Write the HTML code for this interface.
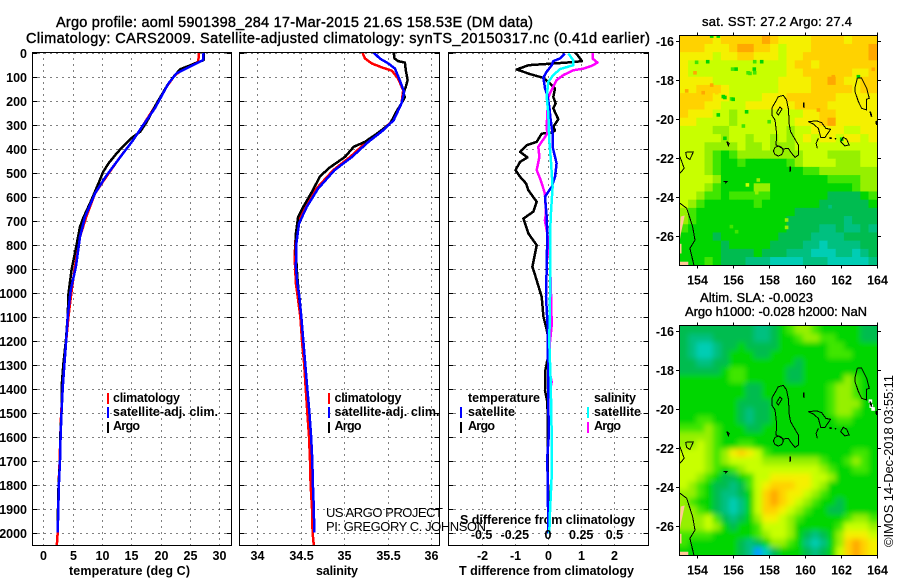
<!DOCTYPE html>
<html lang="en">
<head>
<meta charset="utf-8">
<title>Argo profile chart</title>
<style>
html,body{margin:0;padding:0;background:#fff;width:900px;height:580px;overflow:hidden}
svg{display:block}
text{font-family:"Liberation Sans",sans-serif;fill:#000}
.t{font-size:14.5px;stroke:#000;stroke-width:.4px}
.b{font-size:12.5px;font-weight:bold}
.l{font-size:12.5px;font-weight:bold}
.m{font-size:13px;stroke:#000;stroke-width:.35px}
.thin{font-size:13px}
</style>
</head>
<body>
<svg id="chart" xmlns="http://www.w3.org/2000/svg" width="900" height="580" viewBox="0 0 900 580">
  <defs>
    <clipPath id="clip-t"><rect x="33" y="53" width="198" height="492"/></clipPath>
    <clipPath id="clip-s"><rect x="240" y="53" width="199" height="492"/></clipPath>
    <clipPath id="clip-d"><rect x="449" y="53" width="199" height="492"/></clipPath>
    <clipPath id="clip-m1"><rect x="680" y="36" width="197" height="230"/></clipPath>
    <clipPath id="clip-m2"><rect x="680" y="326" width="197" height="230"/></clipPath>
    <filter id="soft" x="-10%" y="-10%" width="120%" height="120%"><feGaussianBlur stdDeviation="2.6"/></filter>
  </defs>
  <text class="t" x="56" y="27" textLength="477" lengthAdjust="spacing">Argo profile: aoml 5901398_284 17-Mar-2015 21.6S 158.53E (DM data)</text>
  <text class="t" x="26" y="43" textLength="624" lengthAdjust="spacing">Climatology: CARS2009. Satellite-adjusted climatology: synTS_20150317.nc (0.41d earlier)</text>
  <text class="l" x="69" y="575" textLength="121" lengthAdjust="spacing">temperature (deg C)</text>
  <text class="l" x="316" y="575" textLength="42" lengthAdjust="spacing">salinity</text>
  <text class="l" x="459" y="575" textLength="175" lengthAdjust="spacing">T difference from climatology</text>
  <text class="l" x="460" y="524" textLength="175" lengthAdjust="spacing">S difference from climatology</text>
  <text class="thin" x="326" y="517" textLength="117" lengthAdjust="spacing">US ARGO PROJECT</text>
  <text class="thin" x="326" y="531" textLength="160" lengthAdjust="spacing">PI: GREGORY C. JOHNSON</text>
  <text class="l" x="113" y="402" textLength="67" lengthAdjust="spacing">climatology</text>
  <text class="l" x="113" y="416" textLength="105" lengthAdjust="spacing">satellite-adj. clim.</text>
  <text class="l" x="113" y="430" textLength="27" lengthAdjust="spacing">Argo</text>
  <text class="l" x="334.5" y="402" textLength="67" lengthAdjust="spacing">climatology</text>
  <text class="l" x="334.5" y="416" textLength="105" lengthAdjust="spacing">satellite-adj. clim.</text>
  <text class="l" x="334.5" y="430" textLength="27" lengthAdjust="spacing">Argo</text>
  <text class="l" x="468" y="402" textLength="72" lengthAdjust="spacing">temperature</text>
  <text class="l" x="468" y="416" textLength="47" lengthAdjust="spacing">satellite</text>
  <text class="l" x="468" y="430" textLength="27" lengthAdjust="spacing">Argo</text>
  <text class="l" x="594" y="402" textLength="42" lengthAdjust="spacing">salinity</text>
  <text class="l" x="594" y="416" textLength="47" lengthAdjust="spacing">satellite</text>
  <text class="l" x="594" y="430" textLength="27" lengthAdjust="spacing">Argo</text>
  <text class="m" x="702" y="26" textLength="150" lengthAdjust="spacing">sat. SST: 27.2 Argo: 27.4</text>
  <text class="m" x="700" y="302" textLength="113" lengthAdjust="spacing">Altim. SLA: -0.0023</text>
  <text class="m" x="685" y="316" textLength="182" lengthAdjust="spacing">Argo h1000: -0.028 h2000: NaN</text>
  <text class="thin" transform="translate(893,547) rotate(-90)" textLength="172" lengthAdjust="spacing">©IMOS 14-Dec-2018 03:55:11</text>
</svg>
<script>
const depthTicks = [0,100,200,300,400,500,600,700,800,900,1000,1100,1200,1300,1400,1500,1600,1700,1800,1900,2000];
const tempTicks = [0,5,10,15,20,25,30];
const salTicks = [34,34.5,35,35.5,36];
const tDiffTicks = [-2,-1,0,1,2];
const sDiffTicks = [-0.5,-0.25,0,0.25,0.5];
const lonTicks = [154,156,158,160,162,164];
const latTicks = [-16,-18,-20,-22,-24,-26];

const tempClimDepths = [0,39,60,95,143,226,303,372,435,504,587,685,768,893,990,1100,1200,1300,1400,1500,1600,1700,1800,1900,2000,2054];
const tempClimValues = [26.5,26.4,24.4,22.4,21.0,19.0,17.0,15.1,13.1,11.1,8.8,7.3,6.25,5.4,4.83,4.3,3.9,3.55,3.3,3.05,2.9,2.8,2.6,2.55,2.45,2.3];
const tempArgoDepths = [0,32,48,70,95,130,212,290,330,355,397,420,462,497,545,615,690,726,796,907,1004,1100,1200,1300,1400,1500,1600,1700,1800,1900,2000];
const tempArgoValues = [27.3,27.3,25.6,23.3,22.4,21.3,19.3,17.6,16.5,15.1,13.35,12.5,11.1,10.2,9.4,8.2,6.8,6.25,5.7,4.8,4.3,4.15,3.85,3.4,3.1,3.1,2.9,2.85,2.6,2.5,2.45];
const tempSatDepths = [0,32,55,87,130,233,303,372,439,511,587,685,768,893,990,1100,1200,1300,1400,1500,1600,1700,1800,1900,2000];
const tempSatValues = [27.3,27.2,25.3,22.7,21.3,19,17,15.1,13,10.8,8.8,7.1,6.25,5.55,4.66,4.15,3.9,3.6,3.3,3.1,2.95,2.85,2.65,2.55,2.45];

const salClimDepths = [0,25,46,64,76,108,157,212,282,330,372,435,490,567,643,699,782,851,962,1018,1100,1200,1300,1400,1500,1600,1700,1800,1900,2000,2054];
const salClimValues = [35.21,35.24,35.32,35.45,35.55,35.62,35.68,35.66,35.57,35.41,35.26,35.07,34.875,34.68,34.55,34.47,34.44,34.43,34.445,34.465,34.495,34.515,34.54,34.557,34.576,34.595,34.607,34.614,34.63,34.637,34.65];
const salArgoDepths = [0,25,36,42,74,115,143,170,185,212,247,296,335,372,393,435,483,518,580,643,685,754,837,935,1011,1100,1200,1300,1400,1500,1600,1700,1800,1900,2000];
const salArgoValues = [35.57,35.58,35.62,35.70,35.71,35.73,35.71,35.68,35.70,35.66,35.60,35.53,35.39,35.24,35.11,35.01,34.82,34.72,34.63,34.53,34.47,34.445,34.445,34.46,34.48,34.507,34.53,34.553,34.576,34.6,34.62,34.633,34.64,34.65,34.656];
const salSatDepths = [0,25,46,67,115,164,212,282,330,372,435,490,567,643,713,796,893,962,1018,1100,1200,1300,1400,1500,1600,1700,1800,1900,2000];
const salSatValues = [35.34,35.41,35.51,35.585,35.64,35.69,35.66,35.57,35.43,35.28,35.09,34.89,34.70,34.57,34.48,34.45,34.445,34.46,34.485,34.507,34.53,34.553,34.576,34.6,34.62,34.633,34.64,34.65,34.656];

const dTempArgoDepths = [0,11,36,40,46,53,71,90,106,136,150,185,213,233,278,310,325,335,338,372,386,414,437,456,490,518,546,574,622,663,692,754,803,893,928,1018,1100,1155,1205,1248,1283,1325,1408,1450,1500,1800,2000];
const dTempArgoValues = [0.81,0.89,1.02,0.76,0.16,-0.59,-0.94,-0.54,-0.14,0.11,0.21,0.16,0.23,0.16,0.31,0.16,0.21,0.11,-0.19,-0.34,-0.64,-0.84,-0.62,-0.84,-0.98,-0.84,-0.66,-0.59,-0.34,-0.44,-0.74,-0.59,-0.34,-0.47,-0.39,-0.19,-0.14,-0.04,0.03,0.06,-0.02,-0.08,-0.09,-0.03,-0.01,0,0];
const dTempSatDepths = [4,25,36,53,80,104,150,178,226,282,338,393,462,518,560,601,685,754,893,1018,1145,1601,1685,1893,2004];
const dTempSatValues = [0.51,0.36,0.16,0.11,-0.04,-0.14,-0.09,-0.02,0.04,0.08,0.14,0.14,0.26,0.21,0.11,-0.09,-0.04,-0.02,-0.04,-0.06,-0.01,0.02,-0.02,0,0];
const dSalArgoDepths = [0,25,42,56,67,74,94,115,143,185,254,310,338,393,435,490,532,587,671,699,754,865,1018,1135,1207,1304,1373,1443];
const dSalArgoValues = [0.336,0.336,0.373,0.328,0.266,0.19,0.115,0.065,0.04,0.0025,-0.005,-0.01,-0.005,-0.073,-0.065,-0.085,-0.055,-0.023,-0.015,-0.023,-0.005,0.015,0.023,0.028,0.015,0.0025,0.028,0.0025];
const dSalSatDepths = [4,32,53,69,94,122,185,254,365,462,560,657,754,1018,1208,1373,1596,1762,1915,2004];
const dSalSatValues = [0.153,0.19,0.19,0.09,0.04,0.0025,-0.01,0.0025,0.01,0.023,0.035,0.023,0.015,0.015,0.01,0.02,0.028,0.028,0.015,0.01];

const heatPalette = ['#00a0ff','#00cdb4','#00c080','#00bc50','#00d600','#40e600','#96f000','#c8ff00','#f5f000','#ffd200','#ffa800'];

const sstGrid = [
[8,8,8,8,7,8,8,8,8,8,9,8,7,7,7,7,8,8,8,8,7,8,8,8],
[8,8,8,7,7,7,8,9,9,8,8,7,6,7,7,7,8,8,8,8,8,8,8,9],
[7,7,7,7,6,7,7,8,8,7,7,7,6,7,7,8,8,8,8,8,8,8,8,9],
[7,6,6,6,6,6,6,6,6,6,6,6,6,7,8,8,7,8,8,8,8,8,8,8],
[7,6,6,6,6,6,6,6,6,6,6,6,6,7,7,8,8,8,8,8,8,7,7,8],
[7,7,7,7,6,6,6,6,6,6,6,6,7,7,7,7,8,8,9,8,7,7,8,8],
[7,7,8,8,8,7,6,6,6,6,6,6,7,7,7,7,8,8,8,8,8,7,8,8],
[8,8,8,8,7,7,6,6,6,6,7,7,7,8,8,8,8,8,8,7,7,7,7,7],
[8,8,8,7,7,6,6,6,7,7,7,7,7,7,8,8,8,8,7,7,7,7,7,7],
[8,7,7,7,6,6,5,6,6,6,6,6,6,6,6,7,7,8,8,7,7,7,7,7],
[7,7,6,6,6,6,5,6,6,6,6,6,6,6,7,7,7,8,9,7,7,7,7,7],
[6,6,6,6,5,5,6,6,6,6,6,6,6,5,6,6,7,7,7,7,6,6,7,7],
[6,6,6,6,6,5,6,6,5,6,6,5,6,5,6,7,6,7,7,6,7,7,6,7],
[6,6,6,5,5,5,5,6,5,5,6,5,5,5,6,6,6,6,6,6,6,6,6,6],
[6,6,6,5,4,3,4,5,5,5,5,5,5,5,5,6,6,6,5,5,5,5,6,6],
[6,6,6,5,4,3,3,4,3,3,3,3,3,4,5,6,6,6,6,5,5,5,6,6],
[6,6,6,5,4,3,3,3,3,3,3,3,3,3,3,4,4,5,5,5,5,5,5,5],
[6,6,6,6,5,3,3,3,3,3,3,3,3,3,3,3,3,3,4,4,4,4,5,5],
[6,6,6,5,4,3,3,3,3,5,5,3,3,3,3,3,3,3,3,3,3,4,5,5],
[6,6,5,4,4,3,4,4,4,4,4,3,3,3,3,3,3,3,2,2,2,2,3,4],
[6,5,4,3,3,3,3,3,3,4,3,3,3,3,3,3,3,2,2,2,2,2,2,3],
[5,4,3,3,3,3,3,3,3,3,3,3,3,3,2,2,2,2,2,2,2,2,2,2],
[5,4,3,3,3,3,3,3,3,3,3,3,3,2,2,2,2,2,2,2,1,2,2,2],
[4,3,3,3,3,3,3,3,3,3,3,3,3,2,2,2,2,1,1,2,1,1,2,1],
[3,3,3,3,2,3,3,3,3,3,3,3,2,2,2,2,1,1,1,1,2,2,2,2],
[3,3,3,3,3,2,3,3,3,3,3,2,2,2,2,1,1,0,1,1,1,1,2,2],
[3,3,3,3,3,2,2,2,2,3,2,2,2,1,1,1,0,0,0,1,1,0,1,2],
[3,3,3,4,3,2,2,2,1,1,1,0,0,0,0,1,1,1,0,0,0,0,0,1]
];
const sstSpeckLon = [154.58,153.96,155.97,156.16,157.18,157.2,157.59,156.94,154.33,154.8,155.45,155.91,155.17,156.57,155.54,158.01,158.98,158.98,157.31,156.79,157.4,161.58,162.98,163.81,160.75,162.05,154.8,155.17,161.4,156.19,155.9,155.54,156.0,156.75,156.83,157.2,153.87,155.08,153.41];
const sstSpeckLat = [-17.06,-17.09,-17.44,-17.44,-17.44,-17.06,-17.06,-17.66,-18.65,-18.26,-18.85,-18.97,-19.79,-20.36,-20.99,-20.14,-25.18,-25.56,-23.78,-23.38,-23.13,-17.83,-17.83,-17.45,-19.54,-21.04,-15.75,-15.75,-24.5,-25.78,-25.52,-18.9,-18.99,-19.63,-17.63,-17.63,-17.63,-18.65,-18.56];
const sstSpeckLevel = [3,4,4,3,3,4,3,4,9,9,3,4,3,4,3,4,5,5,5,6,5,9,3,9,9,3,3,3,1,4,4,3,3,3,4,4,9,8,9];

const slaGrid = [
[2,2,2,2,2,2,2,2,2,1,1,2,3,4,5,5,4,3,3,3,3,3,2,2],
[2,1,1,1,2,2,2,2,2,1,1,2,3,3,4,5,5,4,4,3,3,3,2,2],
[2,1,0,0,1,2,2,3,2,2,2,2,3,3,3,3,3,3,4,4,3,3,3,3],
[2,1,0,0,1,2,3,3,3,2,2,3,3,3,3,3,3,3,4,4,4,3,3,3],
[2,2,1,1,2,2,3,3,3,3,3,3,3,3,2,3,3,3,3,3,3,3,3,3],
[2,2,2,2,2,3,4,4,3,3,3,3,3,2,2,3,3,3,3,3,3,3,3,3],
[3,3,3,3,3,3,4,4,3,3,3,3,3,2,2,3,3,3,3,3,5,4,3,3],
[3,3,3,3,3,3,3,3,2,2,3,3,3,3,3,3,3,3,4,5,5,4,3,3],
[3,3,3,3,3,3,3,3,2,2,3,3,3,3,3,3,3,3,4,5,5,4,3,3],
[3,3,3,3,3,3,3,2,2,2,2,3,3,3,3,3,3,3,4,5,5,5,3,3],
[3,3,3,3,3,3,3,2,1,2,2,3,3,3,3,3,3,3,4,5,5,4,3,3],
[3,3,4,4,3,3,3,2,1,2,2,3,3,3,3,3,3,3,3,4,4,3,3,3],
[4,4,4,5,4,3,3,3,2,2,3,3,3,3,3,3,3,3,3,3,3,3,3,3],
[5,5,5,5,4,3,3,3,3,3,3,3,3,3,3,3,3,3,3,3,3,3,3,3],
[5,5,6,5,4,3,3,4,4,3,3,3,3,3,3,3,3,3,3,3,3,3,3,3],
[6,6,6,5,4,5,7,8,7,6,4,3,3,3,3,3,3,3,3,3,3,4,4,3],
[6,6,6,5,4,5,6,6,6,6,5,5,5,5,5,5,5,4,3,3,4,5,4,3],
[6,6,6,5,4,3,4,5,6,6,6,6,6,6,6,6,6,5,4,3,3,4,4,3],
[6,6,5,4,3,2,2,3,4,6,6,7,7,7,7,7,6,6,5,3,3,3,3,3],
[6,5,4,3,2,2,1,2,4,6,7,8,8,8,7,7,6,5,3,3,3,3,3,3],
[5,5,4,3,2,1,1,2,3,6,8,9,8,7,7,6,5,4,3,3,3,3,3,3],
[5,4,3,3,2,1,0,1,3,6,8,9,8,7,6,5,4,3,3,2,3,3,3,3],
[5,5,4,3,2,1,0,1,3,6,8,8,7,6,5,4,3,3,2,2,3,3,3,3],
[5,5,5,6,4,2,1,2,3,5,7,7,6,5,4,3,3,3,3,3,4,5,5,4],
[5,5,5,6,5,3,2,3,3,4,6,6,6,5,3,3,3,3,3,4,6,6,6,5],
[4,4,4,4,3,3,3,3,3,4,5,6,6,5,3,2,1,2,3,5,7,7,7,6],
[4,3,3,3,3,3,3,2,1,2,3,5,5,4,3,1,0,1,3,5,8,9,8,7],
[3,3,3,3,3,3,3,2,1,-1,0,2,3,3,3,2,1,2,3,6,8,9,8,7]
];

const coastLines = [
  [[158.52,-18.85],[158.80,-18.79],[158.98,-19.03],[159.09,-19.54],[159.11,-20.22],[159.20,-20.65],[159.63,-21.33],[159.63,-21.85],[159.45,-21.97],[159.26,-21.76],[159.07,-21.50],[158.80,-21.54],[158.39,-21.33],[158.42,-20.73],[158.33,-20.05],[158.15,-19.79],[158.15,-19.45],[158.52,-18.85]],
  [[158.80,-21.64],[158.71,-21.46],[158.52,-21.38],[158.33,-21.46],[158.24,-21.64],[158.33,-21.82],[158.52,-21.90],[158.71,-21.82],[158.80,-21.64]],
  [[158.61,-19.37],[158.72,-19.49],[158.52,-19.79],[158.42,-19.68],[158.61,-19.37]],
  [[159.93,-19.15],[159.95,-19.42]],
  [[160.19,-20.14],[160.65,-20.09],[160.93,-20.19],[161.17,-20.48],[161.43,-20.53],[161.12,-20.94],[160.88,-20.94],[160.75,-20.48],[160.47,-20.26],[160.19,-20.14]],
  [[160.75,-20.99],[160.62,-21.25],[160.69,-21.50]],
  [[161.36,-20.96],[161.49,-21.0]],
  [[161.68,-20.99],[161.73,-21.04]],
  [[161.99,-21.16],[162.14,-20.94],[162.33,-21.04],[162.46,-21.33],[162.23,-21.38],[161.99,-21.16]],
  [[162.92,-17.91],[163.16,-17.91],[163.44,-18.43],[163.59,-18.94],[163.44,-18.99],[163.44,-19.54],[163.16,-19.45],[162.98,-19.11],[162.79,-18.60],[162.79,-18.38],[162.92,-17.91]],
  [[163.63,-19.62],[163.72,-19.88]],
  [[163.96,-20.09],[164,-20.31]],
  [[155.64,-21.16],[155.78,-21.25],[155.73,-21.37],[155.64,-21.16]],
  [[153.35,-21.71],[153.78,-21.68],[153.59,-22.07],[153.41,-21.97],[153.35,-21.71]],
  [[153.03,-21.93],[153.27,-22.53],[153.03,-22.79]],
  [[153.03,-24.32],[153.41,-24.58],[153.74,-25.52],[153.87,-26.21],[153.59,-26.63],[153.81,-27.49]],
  [[155.45,-23.21],[155.64,-23.21],[155.54,-23.30]],
  [[159.19,-22.44],[159.17,-22.70]]
];
const landPatches = [
  [[153.03,-25.55],[153.08,-25.0],[153.3,-24.95],[153.2,-25.4],[153.08,-25.9],[153.03,-26.2]],
  [[153.03,-26.4],[153.12,-26.4],[153.12,-26.9],[153.03,-26.9]],
  [[153.03,-27.32],[153.5,-27.32],[153.5,-27.5],[153.03,-27.5]]
];
const slaGapLon = [163.65,163.7,163.8];
const slaGapLat = [-19.6,-19.85,-20.0];

const NS = 'http://www.w3.org/2000/svg';
const svg = document.getElementById('chart');
const plotTop = 52.5, plotBottom = 545.5, depthScale = 0.24;
const yDepth = d => plotTop + d * depthScale;
const xTemp = v => 43.3 + v * 5.87;
const xSal = v => 257.3 + (v - 34) * 86.85;
const xDT = v => 548 + v * 33.2;
const xDS = v => 548 + v * 132.8;
const xLon = v => 697.3 + (v - 154) * 17.94;
const yLat1 = v => 41 + (-16 - v) * 19.5;
const yLat2 = v => 331 + (-16 - v) * 19.5;

function mk(tag, attrs, parent) {
  const e = document.createElementNS(NS, tag);
  for (const k in attrs) e.setAttribute(k, attrs[k]);
  (parent || svg).appendChild(e);
  return e;
}
function label(str, x, y, anchor, parent) {
  const e = mk('text', {x: x, y: y, 'text-anchor': anchor, 'class': 'b'}, parent);
  e.textContent = str;
  return e;
}

function drawPanel(key, left, right, xFn, xTicks, showDepthLabels) {
  depthTicks.forEach(d => {
    const y = Math.round(yDepth(d)) + 0.5;
    const g = mk('line', {x1: left, x2: right, y1: y, y2: y, stroke: '#000', 'stroke-width': 1, 'stroke-dasharray': '1 5', 'shape-rendering': 'crispEdges'});
    
    
    const a = mk('line', {x1: left, x2: left + 5, y1: y, y2: y, stroke: '#000', 'shape-rendering': 'crispEdges'});
    
    
    const b = mk('line', {x1: right - 5, x2: right, y1: y, y2: y, stroke: '#000', 'shape-rendering': 'crispEdges'});
    
    
    if (showDepthLabels) {
      const t = label(String(d), 27, y + 4.5, 'end');
      
      
    }
  });
  xTicks.forEach(v => {
    const x = Math.round(xFn(v)) + 0.5;
    const g = mk('line', {x1: x, x2: x, y1: plotTop, y2: plotBottom, stroke: '#000', 'stroke-width': 1, 'stroke-dasharray': '1 5', 'shape-rendering': 'crispEdges'});
    
    
    const t = label(String(v), x, 560, 'middle');
    
    
  });
}
function drawFrame(name, x, y, w, h) {
  const r = mk('rect', {x: x, y: y, width: w, height: h, fill: 'none', stroke: '#000', 'stroke-width': 1, 'shape-rendering': 'crispEdges'});
  
  
}
function drawSeries(name, depths, values, xFn, color, clip) {
  const pts = depths.map((d, i) => xFn(values[i]).toFixed(1) + ',' + yDepth(d).toFixed(1)).join(' ');
  const p = mk('polyline', {points: pts, fill: 'none', stroke: color, 'stroke-width': 2.5, 'stroke-linejoin': 'round', 'shape-rendering': 'crispEdges', 'clip-path': 'url(#' + clip + ')'});
  
  
}
function legendMark(name, x, y, color) {
  const r = mk('rect', {x: x, y: y, width: 2, height: 11, fill: color});
  
  
}

drawPanel('temperature-panel', 32.5, 231.5, xTemp, tempTicks, true);
drawPanel('salinity-panel', 239.5, 439.5, xSal, salTicks, false);
drawPanel('difference-panel', 448.5, 648.5, xDT, tDiffTicks, false);

drawSeries('temperature-climatology-line', tempClimDepths, tempClimValues, xTemp, '#ff0000', 'clip-t');
drawSeries('temperature-argo-line', tempArgoDepths, tempArgoValues, xTemp, '#000000', 'clip-t');
drawSeries('temperature-satellite-line', tempSatDepths, tempSatValues, xTemp, '#0000ff', 'clip-t');
drawSeries('salinity-climatology-line', salClimDepths, salClimValues, xSal, '#ff0000', 'clip-s');
drawSeries('salinity-argo-line', salArgoDepths, salArgoValues, xSal, '#000000', 'clip-s');
drawSeries('salinity-satellite-line', salSatDepths, salSatValues, xSal, '#0000ff', 'clip-s');
drawSeries('t-diff-argo-line', dTempArgoDepths, dTempArgoValues, xDT, '#000000', 'clip-d');
drawSeries('s-diff-argo-line', dSalArgoDepths, dSalArgoValues, xDS, '#ff00ff', 'clip-d');
drawSeries('t-diff-satellite-line', dTempSatDepths, dTempSatValues, xDT, '#0000ff', 'clip-d');
drawSeries('s-diff-satellite-line', dSalSatDepths, dSalSatValues, xDS, '#00ffff', 'clip-d');

drawFrame('temperature-panel-frame', 32.5, 52.5, 199, 493);
drawFrame('salinity-panel-frame', 239.5, 52.5, 200, 493);
drawFrame('difference-panel-frame', 448.5, 52.5, 200, 493);

sDiffTicks.forEach(v => {
  const t = label(String(v), xDS(v), 539, 'middle');
  
  
});

legendMark('legend-swatch-climatology-t', 107, 393, '#ff0000');
legendMark('legend-swatch-satellite-t', 107, 407, '#0000ff');
legendMark('legend-swatch-argo-t', 107, 422, '#000000');
legendMark('legend-swatch-climatology-s', 328, 393, '#ff0000');
legendMark('legend-swatch-satellite-s', 328, 407, '#0000ff');
legendMark('legend-swatch-argo-s', 328, 422, '#000000');
legendMark('legend-swatch-satellite-tdiff', 460, 407, '#0000ff');
legendMark('legend-swatch-argo-tdiff', 460, 422, '#000000');
legendMark('legend-swatch-satellite-sdiff', 587, 407, '#00ffff');
legendMark('legend-swatch-argo-sdiff', 587, 422, '#ff00ff');

const mapLonStart = 153.03, mapLonStep = 10.97 / 24;
const mapLatStart = -15.73, mapLatStep = 11.77 / 28;

function drawHeat(key, grid, yLat, clip, overscan, blur) {
  const outer = mk('g', {'clip-path': 'url(#' + clip + ')'});
  
  
  const g = mk('g', blur ? {filter: 'url(#soft)'} : {}, outer);
  grid.forEach((row, r) => {
    row.forEach((lvl, c) => {
      let x0 = xLon(mapLonStart + c * mapLonStep), x1 = xLon(mapLonStart + (c + 1) * mapLonStep);
      let y0 = yLat(mapLatStart - r * mapLatStep), y1 = yLat(mapLatStart - (r + 1) * mapLatStep);
      if (c === 0) x0 -= overscan;
      if (c === row.length - 1) x1 += overscan;
      if (r === 0) y0 -= overscan;
      if (r === grid.length - 1) y1 += overscan;
      const cell = mk('rect', {x: x0.toFixed(2), y: y0.toFixed(2), width: (x1 - x0 + 0.4).toFixed(2), height: (y1 - y0 + 0.4).toFixed(2), fill: heatPalette[lvl + 1]}, g);
      
      
    });
  });
  return outer;
}
function drawMapOverlay(key, yLat, clip) {
  const group = mk('g', {'clip-path': 'url(#' + clip + ')'});
  
  
  landPatches.forEach(patch => {
    const pts = patch.map(p => xLon(p[0]).toFixed(1) + ',' + yLat(p[1]).toFixed(1)).join(' ');
    const land = mk('polygon', {points: pts, fill: '#ffc896'}, group);
    
    
  });
  coastLines.forEach(line => {
    const pts = line.map(p => xLon(p[0]).toFixed(1) + ',' + yLat(p[1]).toFixed(1)).join(' ');
    const c = mk('polyline', {points: pts, fill: 'none', stroke: '#000', 'stroke-width': line.length === 2 ? 1.6 : 1, 'shape-rendering': 'crispEdges'}, group);
    
    
  });
}
function drawMapAxes(key, top, yLat) {
  const f = mk('rect', {x: 679.5, y: top, width: 198, height: 230, fill: 'none', stroke: '#000', 'shape-rendering': 'crispEdges'});
  
  
  lonTicks.forEach(v => {
    const x = Math.round(xLon(v)) + 0.5;
    const a = mk('line', {x1: x, x2: x, y1: top - 3, y2: top, stroke: '#000', 'shape-rendering': 'crispEdges'});
    
    
    const b = mk('line', {x1: x, x2: x, y1: top + 230, y2: top + 233, stroke: '#000', 'shape-rendering': 'crispEdges'});
    
    
    const t = label(String(v), x, top + 249, 'middle');
    
    
  });
  latTicks.forEach(v => {
    const y = Math.round(yLat(v)) + 0.5;
    const a = mk('line', {x1: 676, x2: 679.5, y1: y, y2: y, stroke: '#000', 'shape-rendering': 'crispEdges'});
    
    
    const b = mk('line', {x1: 877.5, x2: 881, y1: y, y2: y, stroke: '#000', 'shape-rendering': 'crispEdges'});
    
    
    const t = label(String(v), 674, y + 4.5, 'end');
    
    
  });
}

const sstHeat = drawHeat('sst-map', sstGrid, yLat1, 'clip-m1', 0, false);
sstSpeckLon.forEach((lon, i) => {
  const s = mk('rect', {x: (xLon(lon) - 1.8).toFixed(1), y: (yLat1(sstSpeckLat[i]) - 1.8).toFixed(1), width: 3.6, height: 3.6, fill: heatPalette[sstSpeckLevel[i] + 1]}, sstHeat);
  
  
});
drawMapOverlay('sst-map', yLat1, 'clip-m1');
drawMapAxes('sst-map', 35.5, yLat1);

const slaHeat = drawHeat('sla-map', slaGrid, yLat2, 'clip-m2', 10, true);
slaGapLon.forEach((lon, i) => {
  const s = mk('rect', {x: (xLon(lon) - 1.8).toFixed(1), y: (yLat2(slaGapLat[i]) - 1.8).toFixed(1), width: 3.6, height: 3.6, fill: '#ffffff'}, slaHeat);
  
  
});
drawMapOverlay('sla-map', yLat2, 'clip-m2');
drawMapAxes('sla-map', 325.5, yLat2);
</script>
</body>
</html>
